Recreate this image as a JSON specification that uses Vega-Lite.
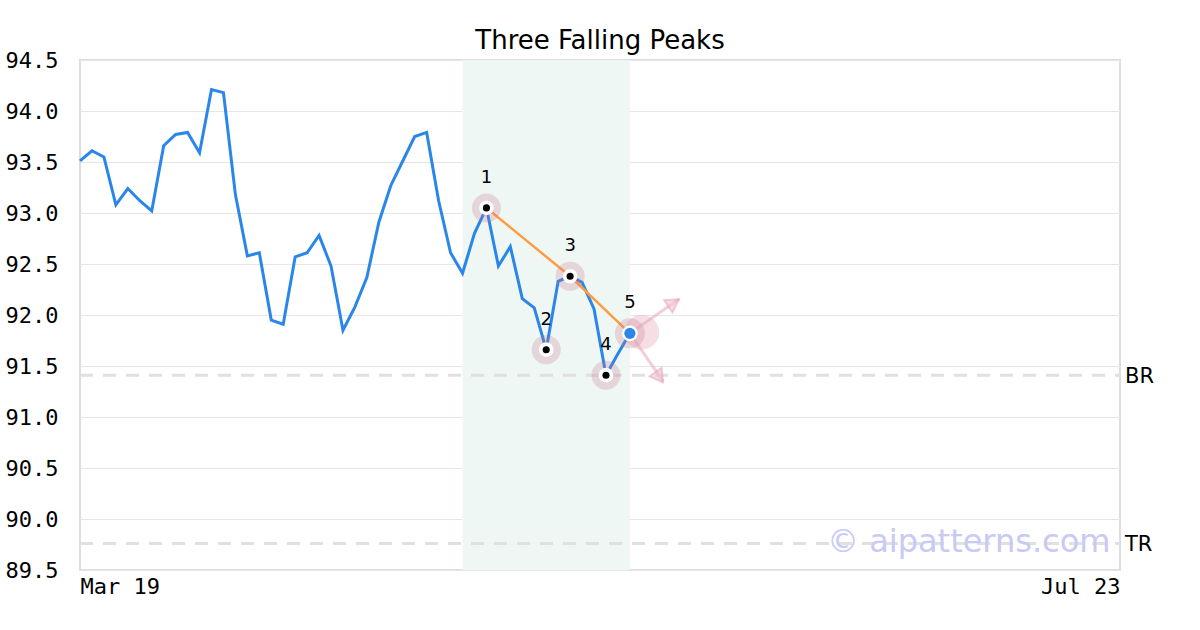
{
  "$schema": "https://vega.github.io/schema/vega-lite/v6.json",
  "width": 1040,
  "height": 510,
  "autosize": {"type": "none"},
  "padding": {"left": 80, "top": 60, "right": 80, "bottom": 60},
  "background": "white",
  "title": {"text": "Three Falling Peaks", "font": "DejaVu Sans", "fontSize": 26, "fontWeight": "normal", "color": "#000000", "anchor": "middle", "baseline": "alphabetic", "offset": 12, "dy": 38},
  "config": {
    "view": {"stroke": "#dddddd", "strokeWidth": 2},
    "axis": {"labelFont": "DejaVu Sans Mono", "labelFontSize": 22, "labelColor": "#000000", "domain": false, "ticks": false, "title": null}
  },
  "datasets": {
    "series": [
      {"i": 0, "v": 93.51}, {"i": 1, "v": 93.61}, {"i": 2, "v": 93.55}, {"i": 3, "v": 93.08},
      {"i": 4, "v": 93.24}, {"i": 5, "v": 93.12}, {"i": 6, "v": 93.02}, {"i": 7, "v": 93.66},
      {"i": 8, "v": 93.77}, {"i": 9, "v": 93.79}, {"i": 10, "v": 93.59}, {"i": 11, "v": 94.21},
      {"i": 12, "v": 94.18}, {"i": 13, "v": 93.18}, {"i": 14, "v": 92.58}, {"i": 15, "v": 92.61},
      {"i": 16, "v": 91.95}, {"i": 17, "v": 91.91}, {"i": 18, "v": 92.57}, {"i": 19, "v": 92.61},
      {"i": 20, "v": 92.78}, {"i": 21, "v": 92.48}, {"i": 22, "v": 91.85}, {"i": 23, "v": 92.08},
      {"i": 24, "v": 92.37}, {"i": 25, "v": 92.91}, {"i": 26, "v": 93.27}, {"i": 27, "v": 93.51},
      {"i": 28, "v": 93.75}, {"i": 29, "v": 93.79}, {"i": 30, "v": 93.12}, {"i": 31, "v": 92.61},
      {"i": 32, "v": 92.41}, {"i": 33, "v": 92.80}, {"i": 34, "v": 93.05}, {"i": 35, "v": 92.48},
      {"i": 36, "v": 92.67}, {"i": 37, "v": 92.16}, {"i": 38, "v": 92.07}, {"i": 39, "v": 91.66},
      {"i": 40, "v": 92.33}, {"i": 41, "v": 92.38}, {"i": 42, "v": 92.32}, {"i": 43, "v": 92.06},
      {"i": 44, "v": 91.41}, {"i": 45, "v": 91.62}, {"i": 46, "v": 91.82}
    ],
    "peaks": [
      {"i": 34, "v": 93.05, "label": "1", "kind": "peak"},
      {"i": 39, "v": 91.66, "label": "2", "kind": "trough"},
      {"i": 41, "v": 92.38, "label": "3", "kind": "peak"},
      {"i": 44, "v": 91.41, "label": "4", "kind": "trough"},
      {"i": 46, "v": 91.82, "label": "5", "kind": "current"}
    ],
    "trend": [
      {"i": 34, "v": 93.05}, {"i": 41, "v": 92.38}, {"i": 46, "v": 91.82}
    ],
    "arrows": [
      {"dir": "up", "i0": 46, "v0": 91.82, "it": 50.13, "vt": 92.157, "ih": 49.66, "vh": 92.12},
      {"dir": "down", "i0": 46, "v0": 91.82, "it": 48.80, "vt": 91.346, "ih": 48.46, "vh": 91.39}
    ],
    "levels": [
      {"name": "BR", "v": 91.41},
      {"name": "TR", "v": 89.76}
    ]
  },
  "encoding": {
    "x": {"type": "quantitative", "scale": {"domain": [0, 87], "nice": false, "zero": false},
          "axis": {"values": [0, 87], "labelExpr": "datum.value == 0 ? 'Mar 19' : 'Jul 23'", "labelFlush": true, "grid": false, "labelPadding": 6}},
    "y": {"type": "quantitative", "scale": {"domain": [89.5, 94.5], "nice": false, "zero": false},
          "axis": {"values": [89.5, 90, 90.5, 91, 91.5, 92, 92.5, 93, 93.5, 94, 94.5], "format": ".1f", "grid": true, "gridColor": "#e6e6e6", "gridWidth": 1, "labelPadding": 22}}
  },
  "layer": [
    {
      "data": {"values": [{"a": 32, "b": 46}]},
      "mark": {"type": "rect", "color": "#eef7f3"},
      "encoding": {"x": {"field": "a"}, "x2": {"field": "b"}, "y": {"datum": 89.5}, "y2": {"datum": 94.5}}
    },
    {
      "data": {"name": "levels"},
      "mark": {"type": "rule", "color": "#e0e0e0", "strokeWidth": 3, "strokeDash": [13, 10]},
      "encoding": {"y": {"field": "v"}, "x": {"datum": 0}, "x2": {"datum": 87}}
    },
    {
      "data": {"name": "levels"},
      "mark": {"type": "text", "font": "DejaVu Sans", "fontSize": 21, "align": "left", "baseline": "middle", "dx": 5, "dy": 2, "color": "#000000"},
      "encoding": {"y": {"field": "v"}, "x": {"datum": 87}, "text": {"field": "name"}}
    },
    {
      "data": {"name": "series"},
      "mark": {"type": "line", "color": "#2a86e8", "strokeWidth": 3},
      "encoding": {"x": {"field": "i"}, "y": {"field": "v"}}
    },
    {
      "data": {"name": "trend"},
      "mark": {"type": "line", "color": "#ff9c40", "strokeWidth": 2.5},
      "encoding": {"x": {"field": "i"}, "y": {"field": "v"}}
    },
    {
      "data": {"values": [{"i": 47, "v": 91.83}]},
      "mark": {"type": "point", "shape": "circle", "filled": true, "color": "#d67a95", "opacity": 0.25, "size": 1200},
      "encoding": {"x": {"field": "i"}, "y": {"field": "v"}}
    },
    {
      "data": {"name": "peaks"},
      "mark": {"type": "point", "shape": "circle", "filled": true, "color": "#c8708a", "opacity": 0.25},
      "encoding": {"x": {"field": "i"}, "y": {"field": "v"},
                   "size": {"condition": {"test": "datum.kind == 'current'", "value": 900}, "value": 840}}
    },
    {
      "data": {"name": "arrows"},
      "mark": {"type": "rule", "color": "#e3a0b3", "strokeWidth": 3, "opacity": 0.5},
      "encoding": {"x": {"field": "i0"}, "y": {"field": "v0"}, "x2": {"field": "it"}, "y2": {"field": "vt"}}
    },
    {
      "data": {"name": "arrows"},
      "mark": {"type": "point", "shape": "triangle-up", "filled": true, "fill": "#f0c4d0", "fillOpacity": 0.6, "stroke": "#e3a0b3", "strokeWidth": 2, "strokeOpacity": 0.5, "size": 220},
      "encoding": {"x": {"field": "ih"}, "y": {"field": "vh"},
                   "angle": {"condition": {"test": "datum.dir == 'up'", "value": 56}, "value": 145}}
    },
    {
      "data": {"name": "peaks"},
      "mark": {"type": "point", "shape": "circle", "filled": true, "color": "#ffffff", "opacity": 1},
      "encoding": {"x": {"field": "i"}, "y": {"field": "v"},
                   "size": {"condition": {"test": "datum.kind == 'current'", "value": 250}, "value": 215}}
    },
    {
      "data": {"name": "peaks"},
      "mark": {"type": "point", "shape": "circle", "filled": true, "opacity": 1},
      "encoding": {"x": {"field": "i"}, "y": {"field": "v"},
                   "size": {"condition": {"test": "datum.kind == 'current'", "value": 125}, "value": 50},
                   "color": {"condition": {"test": "datum.kind == 'current'", "value": "#2a86e8"}, "value": "#000000"}}
    },
    {
      "data": {"name": "peaks"},
      "mark": {"type": "text", "font": "DejaVu Sans", "fontSize": 18, "align": "center", "baseline": "alphabetic", "dy": -25, "color": "#000000"},
      "encoding": {"x": {"field": "i"}, "y": {"field": "v"}, "text": {"field": "label"}}
    },
    {
      "data": {"values": [{"t": "© aipatterns.com", "i": 86.2, "v": 89.77}]},
      "mark": {"type": "text", "font": "DejaVu Sans", "fontSize": 32, "align": "right", "baseline": "middle", "color": "#c9c9f6"},
      "encoding": {"x": {"field": "i"}, "y": {"field": "v"}, "text": {"field": "t"}}
    }
  ]
}
